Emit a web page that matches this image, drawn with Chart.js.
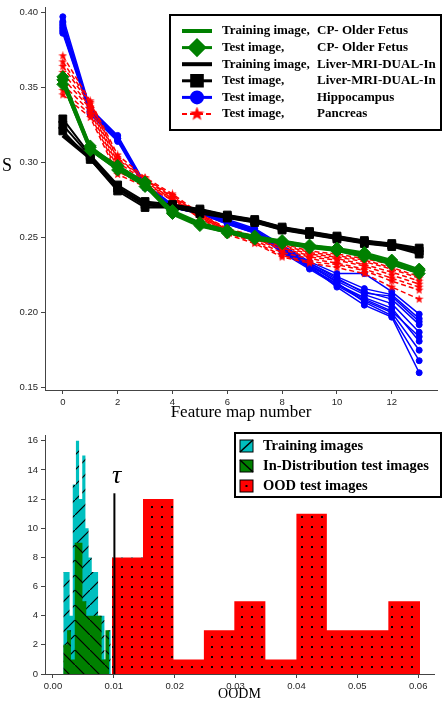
<!DOCTYPE html>
<html>
<head>
<meta charset="utf-8">
<script src="https://cdn.jsdelivr.net/npm/chart.js"></script>
<style>
  html, body { margin: 0; padding: 0; background: #fff; }
  #wrap { width: 444px; height: 705px; overflow: hidden; }
  canvas { display: block; }
</style>
</head>
<body>
<div id="wrap">
  <canvas id="lines" width="444" height="425"></canvas>
  <canvas id="hist" width="444" height="280"></canvas>
</div>
<script>
// ---------- top chart: S per feature map ----------
const featureMaps = [0, 1, 2, 3, 4, 5, 6, 7, 8, 9, 10, 11, 12, 13];
const featureTicks = [0, 2, 4, 6, 8, 10, 12];
const sTicks = [0.15, 0.20, 0.25, 0.30, 0.35, 0.40];

const cpTrain = [0.354, 0.309, 0.296, 0.285, 0.266, 0.258, 0.254, 0.249, 0.247, 0.244, 0.242, 0.238, 0.233, 0.227];
const cpTest = [
  [0.357, 0.311, 0.297, 0.286, 0.267, 0.259, 0.254, 0.250, 0.247, 0.244, 0.242, 0.239, 0.234, 0.228],
  [0.352, 0.308, 0.295, 0.284, 0.266, 0.258, 0.253, 0.249, 0.246, 0.243, 0.241, 0.237, 0.232, 0.226],
  [0.355, 0.310, 0.298, 0.287, 0.268, 0.260, 0.255, 0.251, 0.248, 0.245, 0.243, 0.240, 0.235, 0.229]
];
const liverTrain = [0.318, 0.303, 0.283, 0.272, 0.271, 0.268, 0.264, 0.261, 0.256, 0.253, 0.250, 0.247, 0.245, 0.241];
const liverTest = [
  [0.329, 0.305, 0.285, 0.274, 0.272, 0.269, 0.265, 0.262, 0.257, 0.254, 0.251, 0.248, 0.246, 0.243],
  [0.321, 0.302, 0.281, 0.270, 0.270, 0.266, 0.263, 0.260, 0.255, 0.252, 0.249, 0.246, 0.244, 0.239],
  [0.325, 0.304, 0.283, 0.272, 0.271, 0.268, 0.264, 0.261, 0.256, 0.253, 0.250, 0.247, 0.245, 0.241]
];
const hippocampusTest = [
  [0.397, 0.336, 0.318, 0.286, 0.272, 0.268, 0.262, 0.256, 0.245, 0.234, 0.226, 0.226, 0.214, 0.199],
  [0.394, 0.335, 0.317, 0.285, 0.271, 0.267, 0.261, 0.255, 0.244, 0.233, 0.224, 0.216, 0.212, 0.196],
  [0.391, 0.334, 0.316, 0.284, 0.271, 0.267, 0.260, 0.254, 0.243, 0.232, 0.222, 0.214, 0.209, 0.192],
  [0.389, 0.333, 0.315, 0.284, 0.270, 0.266, 0.260, 0.254, 0.242, 0.231, 0.221, 0.212, 0.206, 0.187],
  [0.387, 0.333, 0.316, 0.283, 0.270, 0.266, 0.259, 0.253, 0.241, 0.230, 0.219, 0.210, 0.203, 0.181],
  [0.386, 0.332, 0.314, 0.283, 0.270, 0.266, 0.259, 0.253, 0.240, 0.229, 0.218, 0.208, 0.200, 0.175],
  [0.392, 0.334, 0.317, 0.285, 0.271, 0.267, 0.261, 0.255, 0.243, 0.232, 0.220, 0.207, 0.198, 0.168],
  [0.388, 0.333, 0.315, 0.284, 0.270, 0.266, 0.260, 0.254, 0.242, 0.231, 0.217, 0.205, 0.197, 0.160],
  [0.390, 0.334, 0.316, 0.285, 0.271, 0.267, 0.260, 0.254, 0.244, 0.233, 0.223, 0.213, 0.211, 0.194],
  [0.393, 0.335, 0.317, 0.284, 0.271, 0.267, 0.261, 0.255, 0.241, 0.230, 0.219, 0.209, 0.201, 0.184]
];
const pancreasTest = [
  [0.371, 0.341, 0.305, 0.290, 0.279, 0.266, 0.256, 0.251, 0.246, 0.241, 0.239, 0.236, 0.232, 0.226],
  [0.364, 0.339, 0.302, 0.289, 0.278, 0.265, 0.255, 0.250, 0.244, 0.239, 0.237, 0.234, 0.229, 0.223],
  [0.360, 0.337, 0.300, 0.288, 0.277, 0.265, 0.255, 0.249, 0.243, 0.238, 0.236, 0.232, 0.227, 0.221],
  [0.356, 0.336, 0.298, 0.287, 0.276, 0.264, 0.254, 0.249, 0.242, 0.237, 0.235, 0.231, 0.225, 0.219],
  [0.352, 0.334, 0.296, 0.286, 0.276, 0.264, 0.254, 0.248, 0.240, 0.236, 0.233, 0.229, 0.223, 0.217],
  [0.348, 0.332, 0.294, 0.285, 0.275, 0.263, 0.253, 0.247, 0.238, 0.234, 0.232, 0.228, 0.221, 0.215],
  [0.345, 0.330, 0.292, 0.284, 0.275, 0.263, 0.252, 0.246, 0.237, 0.233, 0.230, 0.226, 0.217, 0.209],
  [0.367, 0.340, 0.303, 0.289, 0.277, 0.266, 0.255, 0.250, 0.245, 0.240, 0.238, 0.235, 0.230, 0.224]
];
const lineLegend = [
  ['Training image,', 'CP- Older Fetus'],
  ['Test image,', 'CP- Older Fetus'],
  ['Training image,', 'Liver-MRI-DUAL-In'],
  ['Test image,', 'Liver-MRI-DUAL-In'],
  ['Test image,', 'Hippocampus'],
  ['Test image,', 'Pancreas']
];

// ---------- bottom chart: OODM histograms ----------
const trainEdges = [0.0017, 0.00222, 0.00274, 0.00326, 0.00378, 0.0043, 0.00482, 0.00534, 0.00586, 0.00638, 0.0069, 0.00742, 0.00794, 0.00846, 0.00898, 0.0095];
const trainCounts = [7, 7, 4, 13, 16, 12, 15, 10, 8, 7, 7, 4, 4, 1, 3];
const idEdges = [0.0017, 0.00233, 0.00296, 0.00359, 0.00422, 0.00485, 0.00548, 0.00611, 0.00674, 0.00737, 0.008, 0.00863, 0.00926];
const idCounts = [2, 3, 1, 9, 9, 5, 4, 4, 4, 4, 1, 3];
const oodEdges = [0.0097, 0.0148, 0.0198, 0.0248, 0.0298, 0.0349, 0.04, 0.045, 0.0501, 0.0551, 0.0603];
const oodCounts = [8, 12, 1, 3, 5, 1, 11, 3, 3, 5];
const tau = 0.0101;
const tauHeight = 12.4;
const oodmTicks = [0, 0.01, 0.02, 0.03, 0.04, 0.05, 0.06];
const countTicks = [0, 2, 4, 6, 8, 10, 12, 14, 16];
const histLegend = ['Training images', 'In-Distribution test images', 'OOD test images'];

// ---------- styles ----------
const GREEN = '#008000', BLACK = '#000000', BLUE = '#0000ff', RED = '#ff0000', CYAN = '#00bfbf';
const AXIS = '#444';
const TICK_FONT = { family: '"Liberation Sans Narrow", "Liberation Sans", sans-serif', size: 9.5 };
const SERIF = '"Liberation Serif", "DejaVu Serif", serif';

function starImage(size, color) {
  const c = document.createElement('canvas');
  c.width = c.height = size;
  const g = c.getContext('2d');
  const r = size / 2, ri = r * 0.42;
  g.beginPath();
  for (let k = 0; k < 10; k++) {
    const a = -Math.PI / 2 + k * Math.PI / 5;
    const rr = k % 2 ? ri : r;
    g.lineTo(r + rr * Math.cos(a), r + rr * Math.sin(a));
  }
  g.closePath();
  g.fillStyle = color;
  g.fill();
  return c;
}
const starSmall = starImage(9, RED);
const starBig = starImage(15, RED);

function hatch(color, slash, step) {
  const c = document.createElement('canvas');
  c.width = c.height = step;
  const g = c.getContext('2d');
  g.fillStyle = color;
  g.fillRect(0, 0, step, step);
  g.strokeStyle = '#000';
  g.lineWidth = 1.2;
  g.beginPath();
  if (slash) { g.moveTo(-1, step + 1); g.lineTo(step + 1, -1); }
  else { g.moveTo(-1, -1); g.lineTo(step + 1, step + 1); }
  g.stroke();
  return g.createPattern(c, 'repeat');
}
function dots(color, step) {
  const c = document.createElement('canvas');
  c.width = c.height = step;
  const g = c.getContext('2d');
  g.fillStyle = color;
  g.fillRect(0, 0, step, step);
  g.fillStyle = '#000';
  g.fillRect(1, 1, 2, 2);
  return g.createPattern(c, 'repeat');
}

const pts = vals => vals.map((v, i) => ({ x: featureMaps[i], y: v }));
function stepPoints(edges, counts) {
  const out = counts.map((c, i) => ({ x: edges[i], y: c }));
  out.push({ x: edges[edges.length - 1], y: counts[counts.length - 1] });
  return out;
}

function lineSet(vals, color, width, style, radius, dash) {
  return {
    data: pts(vals), borderColor: color, backgroundColor: color, borderWidth: width,
    borderDash: dash || [], pointStyle: style || 'circle', pointRadius: style ? radius : 0,
    pointBorderColor: color, pointBackgroundColor: color, pointBorderWidth: 1, fill: false, tension: 0
  };
}

// first dataset is drawn on top
const topSets = [];
topSets.push(lineSet(cpTrain, GREEN, 4));
cpTest.forEach(v => topSets.push(lineSet(v, GREEN, 2, 'rectRot', 6)));
topSets.push(lineSet(liverTrain, BLACK, 4));
liverTest.forEach(v => topSets.push(lineSet(v, BLACK, 2, 'rect', 5.5)));
pancreasTest.forEach(v => topSets.push(lineSet(v, RED, 1.5, starSmall, 4, [5, 3])));
hippocampusTest.forEach(v => topSets.push(lineSet(v, BLUE, 1.5, 'circle', 3)));

function axisOpts(min, max, ticks, fmt, size, title, titleSize) {
  const o = {
    type: 'linear', min: min, max: max,
    afterBuildTicks: s => { s.ticks = ticks.map(v => ({ value: v })); },
    afterFit: s => {
      if (s.isHorizontal()) s.height = size; else s.width = size;
      s.paddingTop = 0; s.paddingBottom = 0; s.paddingLeft = 0; s.paddingRight = 0;
    },
    ticks: { font: TICK_FONT, color: '#262626', padding: 3, maxRotation: 0, autoSkip: false, callback: fmt },
    grid: { display: true, drawOnChartArea: false, drawTicks: true, tickLength: 4, color: AXIS },
    border: { display: true, color: AXIS, width: 1 }
  };
  if (title) o.title = { display: true, text: title, color: '#000', font: { family: SERIF, size: titleSize }, padding: { top: 0, bottom: 2 } };
  return o;
}

function marker(ctx, style, radius, color, x, y) {
  ctx.fillStyle = color;
  ctx.strokeStyle = color;
  Chart.helpers.drawPoint(ctx, { pointStyle: style, radius: radius, rotation: 0, borderWidth: 1 }, x, y);
}

const topDecor = {
  id: 'topDecor',
  afterDraw(chart) {
    const ctx = chart.ctx;
    ctx.save();
    ctx.fillStyle = '#000';
    ctx.font = '18px ' + SERIF;
    ctx.textBaseline = 'middle';
    ctx.textAlign = 'left';
    ctx.fillText('S', 2, 166);

    ctx.fillStyle = '#fff';
    ctx.fillRect(170, 15, 271, 115);
    ctx.lineWidth = 2;
    ctx.strokeStyle = '#000';
    ctx.strokeRect(170, 15, 271, 115);

    const rows = [
      { color: GREEN, width: 4 },
      { color: GREEN, width: 3, style: 'rectRot', r: 7.5 },
      { color: BLACK, width: 4 },
      { color: BLACK, width: 3, style: 'rect', r: 7.5 },
      { color: BLUE, width: 3, style: 'circle', r: 5.5 },
      { color: RED, width: 2, style: starBig, r: 7, dash: [5, 3] }
    ];
    rows.forEach((row, i) => {
      const y = 31 + i * 16.6;
      ctx.setLineDash(row.dash || []);
      ctx.strokeStyle = row.color;
      ctx.lineWidth = row.width;
      ctx.beginPath();
      ctx.moveTo(182, y);
      ctx.lineTo(212, y);
      ctx.stroke();
      ctx.setLineDash([]);
      if (row.style) marker(ctx, row.style, row.r, row.color, 197, y);
      ctx.fillStyle = '#000';
      ctx.font = 'bold 13px ' + SERIF;
      ctx.textBaseline = 'middle';
      ctx.fillText(lineLegend[i][0], 222, y);
      ctx.fillText(lineLegend[i][1], 317, y);
    });
    ctx.restore();
  }
};

new Chart(document.getElementById('lines'), {
  type: 'line',
  data: { datasets: topSets },
  options: {
    responsive: false,
    animation: false,
    layout: { padding: { top: 4, right: 4, left: 0, bottom: 0 } },
    plugins: { legend: { display: false }, tooltip: { enabled: false } },
    scales: {
      x: axisOpts(-0.65, 13.65, featureTicks, v => String(v), 35, 'Feature map number', 17),
      y: axisOpts(0.1485, 0.4035, sTicks, v => v.toFixed(2), 45)
    }
  },
  plugins: [topDecor]
});

// ---------- histogram ----------
const histDecor = {
  id: 'histDecor',
  afterDraw(chart) {
    const ctx = chart.ctx;
    ctx.save();
    ctx.fillStyle = '#000';
    ctx.font = 'italic 26px ' + SERIF;
    ctx.textBaseline = 'alphabetic';
    ctx.textAlign = 'left';
    ctx.fillText('\u03c4', 112, 58);

    ctx.fillStyle = '#fff';
    ctx.fillRect(235, 8, 206, 64);
    ctx.lineWidth = 2;
    ctx.strokeStyle = '#000';
    ctx.strokeRect(235, 8, 206, 64);

    const fills = [CYAN, GREEN, RED];
    histLegend.forEach((label, i) => {
      const y = 21 + i * 20;
      const x0 = 240, w = 13, h = 12, y0 = y - h / 2;
      ctx.fillStyle = fills[i];
      ctx.fillRect(x0, y0, w, h);
      ctx.strokeStyle = '#000';
      ctx.lineWidth = 1.5;
      ctx.beginPath();
      if (i === 0) { ctx.moveTo(x0, y0 + h); ctx.lineTo(x0 + w, y0); ctx.stroke(); }
      if (i === 1) { ctx.moveTo(x0, y0); ctx.lineTo(x0 + w, y0 + h); ctx.stroke(); }
      if (i === 2) { ctx.fillStyle = '#000'; ctx.fillRect(x0 + w / 2 - 1, y - 1, 2, 2); }
      ctx.lineWidth = 1;
      ctx.strokeRect(x0, y0, w, h);
      ctx.fillStyle = '#000';
      ctx.font = 'bold 14.5px ' + SERIF;
      ctx.textBaseline = 'middle';
      ctx.fillText(label, 263, y);
    });
    ctx.restore();
  }
};

function histSet(edges, counts, bg) {
  return {
    data: stepPoints(edges, counts), stepped: true, fill: 'origin',
    backgroundColor: bg, borderColor: 'rgba(0,0,0,0)', borderWidth: 0, pointRadius: 0
  };
}

new Chart(document.getElementById('hist'), {
  type: 'line',
  data: {
    datasets: [
      { data: [{ x: tau, y: 0 }, { x: tau, y: tauHeight }], borderColor: '#000', borderWidth: 2, pointRadius: 0, fill: false },
      histSet(oodEdges, oodCounts, dots(RED, 10)),
      histSet(idEdges, idCounts, hatch(GREEN, false, 15)),
      histSet(trainEdges, trainCounts, hatch(CYAN, true, 15))
    ]
  },
  options: {
    responsive: false,
    animation: false,
    layout: { padding: { top: 10, right: 10, left: 0, bottom: 0 } },
    plugins: { legend: { display: false }, tooltip: { enabled: false } },
    scales: {
      x: axisOpts(-0.0013, 0.0626, oodmTicks, v => v.toFixed(2), 31, 'OODM', 14),
      y: axisOpts(0, 16.4, countTicks, v => String(v), 45)
    }
  },
  plugins: [histDecor]
});
</script>
</body>
</html>
